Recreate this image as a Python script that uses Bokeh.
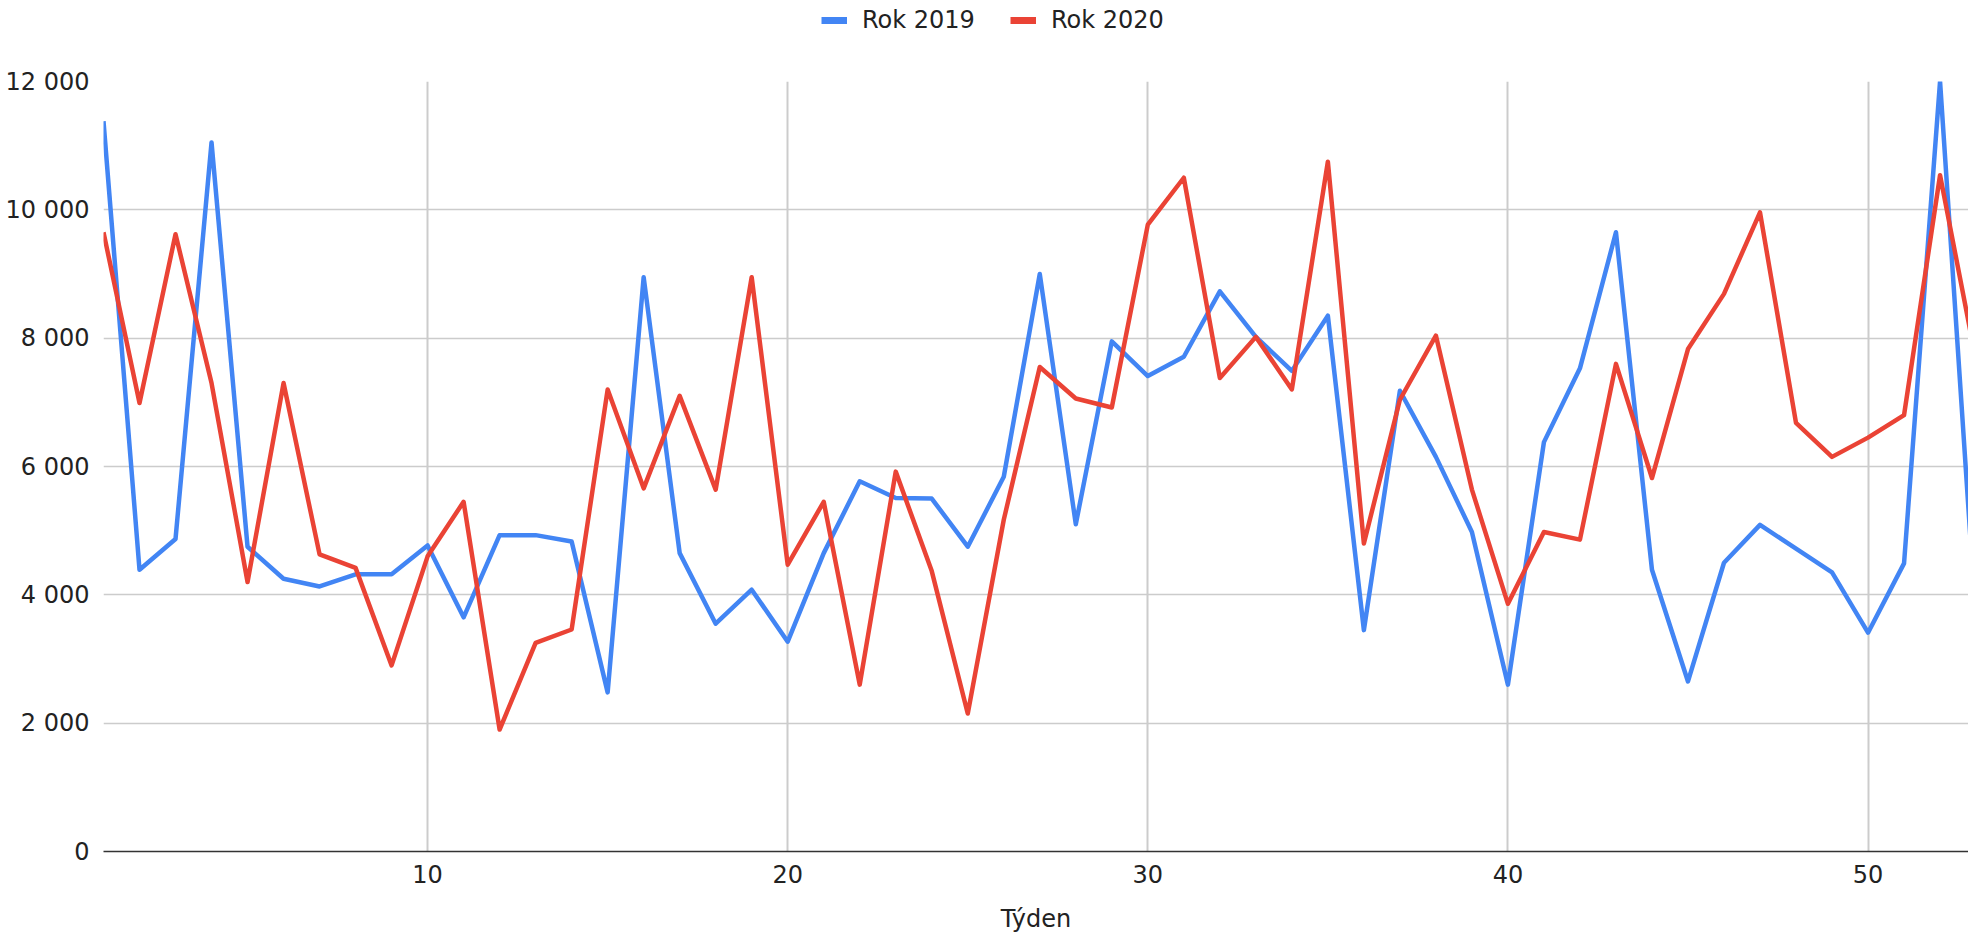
from bokeh.plotting import figure
from bokeh.layouts import column
from bokeh.models import Range1d, FixedTicker, Legend, LegendItem
from bokeh.embed import file_html
from bokeh.resources import INLINE

weeks = list(range(1, 54))
rok_2019 = [11380, 4390, 4870, 11050, 4750, 4250, 4130, 4320, 4320, 4770,
            3650, 4930, 4930, 4830, 2480, 8950, 4650, 3550, 4080, 3270,
            4650, 5770, 5510, 5500, 4750, 5840, 9000, 5100, 7950, 7410,
            7710, 8730, 8020, 7490, 8350, 3450, 7180, 6150, 4980, 2600,
            6380, 7530, 9650, 4390, 2650, 4500, 5090, 4720, 4350, 3410,
            4490, 12000, 3560]
rok_2020 = [9650, 6990, 9620, 7300, 4200, 7300, 4630, 4420, 2900, 4600,
            5450, 1900, 3250, 3460, 7200, 5660, 7100, 5640, 8950, 4470,
            5450, 2600, 5920, 4370, 2150, 5170, 7550, 7060, 6920, 9770,
            10500, 7380, 8020, 7200, 10750, 4800, 7040, 8040, 5640, 3860,
            4980, 4860, 7600, 5820, 7830, 8690, 9960, 6680, 6150, 6450,
            6800, 10540, 7650]
series_names = ["Rok 2019", "Rok 2020"]
x_ticks = [10, 20, 30, 40, 50]
y_ticks = [0, 2000, 4000, 6000, 8000, 10000, 12000]
x_title = "Týden"

BLUE = "#4285F4"
RED = "#EA4335"
FONT = "DejaVu Sans"
TXT = "#222222"
FS = "24px"

W = 1968
TOP_H = 61

# ---- legend strip (own small figure above the chart) ----
top = figure(width=W, height=TOP_H, output_backend="svg", toolbar_location=None,
             x_range=Range1d(0, W), y_range=Range1d(0, TOP_H),
             min_border=0, outline_line_color=None, x_axis_type=None,
             y_axis_type=None)
top.grid.visible = False
# proxy renderers lying outside the visible range, used only for legend swatches
lb = top.line([-20, -10], [-20, -20], line_color=BLUE, line_width=7)
lr = top.line([-20, -10], [-20, -20], line_color=RED, line_width=7)
legend = Legend(items=[LegendItem(label=series_names[0], renderers=[lb]),
                       LegendItem(label=series_names[1], renderers=[lr])],
                orientation="horizontal", location=(718, 27),
                glyph_width=26, glyph_height=26, label_height=26,
                label_standoff=15, spacing=35, padding=0, margin=0,
                border_line_color=None, background_fill_alpha=0,
                label_text_font=FONT, label_text_font_size=FS,
                label_text_color=TXT)
top.add_layout(legend, "center")

# ---- main chart ----
p = figure(width=W, height=940 - TOP_H, output_backend="svg", toolbar_location=None,
           x_range=Range1d(1, 52.79), y_range=Range1d(0, 12000),
           min_border_left=103, min_border_right=0, min_border_top=20,
           min_border_bottom=89, outline_line_color=None)

p.line(weeks, rok_2019, line_color=BLUE, line_width=4.5, line_join="round")
p.line(weeks, rok_2020, line_color=RED, line_width=4.5, line_join="round")

# grids
p.xgrid.ticker = FixedTicker(ticks=x_ticks)
p.ygrid.ticker = FixedTicker(ticks=y_ticks)
p.xgrid.grid_line_color = "#cccccc"
p.xgrid.grid_line_width = 2
p.ygrid.grid_line_color = "#cccccc"
p.ygrid.grid_line_width = 1.5

# x axis
xa = p.xaxis[0]
xa.ticker = FixedTicker(ticks=x_ticks)
xa.axis_line_color = "#333333"
xa.axis_line_width = 1.5
xa.major_tick_line_color = None
xa.major_tick_out = 0
xa.major_tick_in = 0
xa.minor_tick_line_color = None
xa.major_label_standoff = 13
xa.major_label_text_font = FONT
xa.major_label_text_font_size = FS
xa.major_label_text_color = TXT
xa.axis_label = x_title
xa.axis_label_text_font = FONT
xa.axis_label_text_font_size = FS
xa.axis_label_text_font_style = "normal"
xa.axis_label_text_color = TXT
xa.axis_label_standoff = 19

# y axis
ya = p.yaxis[0]
ya.ticker = FixedTicker(ticks=y_ticks)
ya.major_label_overrides = {t: f"{t:,}".replace(",", " ") for t in y_ticks}
ya.axis_line_color = None
ya.major_tick_line_color = None
ya.major_tick_out = 0
ya.major_tick_in = 0
ya.minor_tick_line_color = None
ya.major_label_standoff = 14
ya.major_label_text_font = FONT
ya.major_label_text_font_size = FS
ya.major_label_text_color = TXT

layout = column(top, p, spacing=0)
open("out.html", "w").write(file_html(layout, INLINE))
